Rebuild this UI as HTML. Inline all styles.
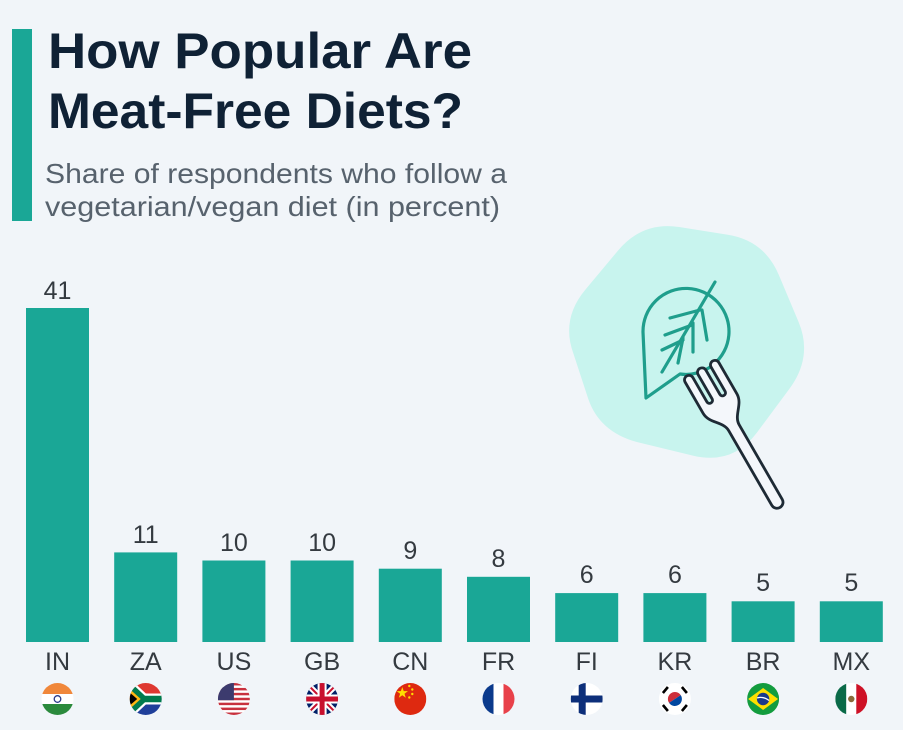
<!DOCTYPE html>
<html>
<head>
<meta charset="utf-8">
<style>
html,body{margin:0;padding:0;background:#f1f5f9;}
svg{display:block;}
text{font-family:"Liberation Sans",sans-serif;}
</style>
</head>
<body>
<svg width="903" height="730" viewBox="0 0 903 730" xmlns="http://www.w3.org/2000/svg">
<defs>
<clipPath id="fc"><circle cx="0" cy="0" r="16"/></clipPath>
</defs>
<rect width="903" height="730" fill="#f1f5f9"/>
<rect x="12" y="29" width="20" height="192" fill="#1aa796"/>
<text x="48" y="68" font-weight="bold" font-size="50" fill="#0f2135" textLength="424" lengthAdjust="spacingAndGlyphs">How Popular Are</text>
<text x="48" y="128" font-weight="bold" font-size="50" fill="#0f2135" textLength="415" lengthAdjust="spacingAndGlyphs">Meat-Free Diets?</text>
<text x="45" y="183" font-size="28" fill="#57626d" textLength="462" lengthAdjust="spacingAndGlyphs">Share of respondents who follow a</text>
<text x="45" y="216" font-size="28" fill="#57626d" textLength="455" lengthAdjust="spacingAndGlyphs">vegetarian/vegan diet (in percent)</text>

<!-- icon -->
<path fill="#c8f4ee" d="M679.1,227.0 L727.8,234.7 Q764.4,240.4 779.0,275.4 L798.6,322.0 Q813.2,357 789.0,389.4 L756.8,432.7 Q732.6,465.1 692.9,455.6 L639.9,442.8 Q600.1,433.3 588.3,399.0 L573.3,353.2 Q560.9,318.9 585.4,289.6 L618.0,250.6 Q642.5,221.3 679.1,227.0 Z"/>
<g fill="none" stroke="#1f9e8c" stroke-width="3.2" stroke-linecap="round" stroke-linejoin="round">
<path d="M646,398 L643,332 A43,43 0 1 1 680,374 Z"/>
<path d="M715,282 L662,372"/>
<path d="M700,310 L670,318 M692,325 L665,335 M683,340 L662,350"/>
<path d="M702,310 L707,340 M693,323 L693,352 M683,338 L678,363"/>
</g>
<path transform="translate(778,504) rotate(-30)" fill="#f4f7fb" stroke="#1e2a35" stroke-width="2.8" stroke-linejoin="round"
d="M -6,-2 L -6,-88 C -6,-99 -19.5,-104 -19.5,-116 L -19.5,-152 A 4.5,4.5 0 0 1 -10.5,-152 L -10.5,-124 A 3,3 0 0 0 -4.5,-124 L -4.5,-152 A 4.5,4.5 0 0 1 4.5,-152 L 4.5,-124 A 3,3 0 0 0 10.5,-124 L 10.5,-152 A 4.5,4.5 0 0 1 19.5,-152 L 19.5,-116 C 19.5,-104 6,-99 6,-88 L 6,-2 A 6,6 0 0 1 -6,-2 Z"/>

<!-- bars -->
<g fill="#1aa796">
<rect x="26" y="308" width="63" height="334"/>
<rect x="114.2" y="552.4" width="63" height="89.6"/>
<rect x="202.4" y="560.5" width="63" height="81.5"/>
<rect x="290.6" y="560.5" width="63" height="81.5"/>
<rect x="378.8" y="568.7" width="63" height="73.3"/>
<rect x="467" y="576.8" width="63" height="65.2"/>
<rect x="555.2" y="593.1" width="63" height="48.9"/>
<rect x="643.4" y="593.1" width="63" height="48.9"/>
<rect x="731.6" y="601.3" width="63" height="40.7"/>
<rect x="819.8" y="601.3" width="63" height="40.7"/>
</g>
<g font-size="25" fill="#343a40" text-anchor="middle">
<text x="57.5" y="299">41</text>
<text x="145.7" y="543">11</text>
<text x="233.9" y="551">10</text>
<text x="322.1" y="551">10</text>
<text x="410.3" y="559">9</text>
<text x="498.5" y="567">8</text>
<text x="586.7" y="583">6</text>
<text x="674.9" y="583">6</text>
<text x="763.1" y="591">5</text>
<text x="851.3" y="591">5</text>
</g>
<g font-size="25" fill="#343a40" text-anchor="middle">
<text x="57.5" y="670">IN</text>
<text x="145.7" y="670">ZA</text>
<text x="233.9" y="670">US</text>
<text x="322.1" y="670">GB</text>
<text x="410.3" y="670">CN</text>
<text x="498.5" y="670">FR</text>
<text x="586.7" y="670">FI</text>
<text x="674.9" y="670">KR</text>
<text x="763.1" y="670">BR</text>
<text x="851.3" y="670">MX</text>
</g>

<!-- flags -->
<g transform="translate(57.5,699)"><g clip-path="url(#fc)">
<rect x="-16" y="-16" width="32" height="11" fill="#f0873a"/>
<rect x="-16" y="-5" width="32" height="10" fill="#ffffff"/>
<rect x="-16" y="5" width="32" height="11" fill="#2b8a3d"/>
<circle r="3.3" fill="none" stroke="#2a3a8a" stroke-width="1.3"/>
</g></g>

<g transform="translate(145.7,699)"><g clip-path="url(#fc)">
<rect x="-16" y="-16" width="32" height="16" fill="#de3831"/>
<rect x="-16" y="0" width="32" height="16" fill="#1f3f9a"/>
<path d="M-18,-15 L-2,0 L18,0 M-18,15 L-2,0" stroke="#fff" stroke-width="11" fill="none"/>
<path d="M-18,-15 L-2,0 L18,0 M-18,15 L-2,0" stroke="#007a4d" stroke-width="6.5" fill="none"/>
<polygon points="-16,-10 -5,0 -16,10" fill="#ffb612"/>
<polygon points="-16,-6.5 -8.5,0 -16,6.5" fill="#000"/>
</g></g>

<g transform="translate(233.9,699)"><g clip-path="url(#fc)">
<rect x="-16" y="-16" width="32" height="32" fill="#fff"/>
<g fill="#c8313e">
<rect x="-16" y="-16" width="32" height="2.46"/>
<rect x="-16" y="-11.08" width="32" height="2.46"/>
<rect x="-16" y="-6.16" width="32" height="2.46"/>
<rect x="-16" y="-1.24" width="32" height="2.46"/>
<rect x="-16" y="3.68" width="32" height="2.46"/>
<rect x="-16" y="8.6" width="32" height="2.46"/>
<rect x="-16" y="13.52" width="32" height="2.48"/>
</g>
<rect x="-16" y="-16" width="16" height="17.2" fill="#3c3b6e"/>
</g></g>

<g transform="translate(322.1,699)"><g clip-path="url(#fc)">
<rect x="-16" y="-16" width="32" height="32" fill="#012169"/>
<path d="M-16,-16 L16,16 M16,-16 L-16,16" stroke="#fff" stroke-width="6"/>
<path d="M-16,-16 L16,16 M16,-16 L-16,16" stroke="#c8102e" stroke-width="2"/>
<path d="M0,-16 L0,16 M-16,0 L16,0" stroke="#fff" stroke-width="9"/>
<path d="M0,-16 L0,16 M-16,0 L16,0" stroke="#c8102e" stroke-width="5"/>
</g></g>

<g transform="translate(410.3,699)"><g clip-path="url(#fc)">
<rect x="-16" y="-16" width="32" height="32" fill="#de2910"/>
<polygon points="-8,-12 -6.6,-7.9 -2.3,-7.9 -5.8,-5.3 -4.5,-1.2 -8,-3.7 -11.5,-1.2 -10.2,-5.3 -13.7,-7.9 -9.4,-7.9" fill="#ffde00"/>
<circle cx="-1" cy="-13" r="1.2" fill="#ffde00"/>
<circle cx="2" cy="-9.5" r="1.2" fill="#ffde00"/>
<circle cx="2" cy="-5" r="1.2" fill="#ffde00"/>
<circle cx="-1" cy="-1.5" r="1.2" fill="#ffde00"/>
</g></g>

<g transform="translate(498.5,699)"><g clip-path="url(#fc)">
<rect x="-16" y="-16" width="11" height="32" fill="#0b3a8c"/>
<rect x="-5" y="-16" width="10" height="32" fill="#fff"/>
<rect x="5" y="-16" width="11" height="32" fill="#e8414a"/>
</g></g>

<g transform="translate(586.7,699)"><g clip-path="url(#fc)">
<rect x="-16" y="-16" width="32" height="32" fill="#fff"/>
<rect x="-8" y="-16" width="7" height="32" fill="#0d2f7a"/>
<rect x="-16" y="-3.5" width="32" height="7" fill="#0d2f7a"/>
</g></g>

<g transform="translate(674.9,699)"><g clip-path="url(#fc)">
<rect x="-16" y="-16" width="32" height="32" fill="#fff"/>
<g transform="rotate(-34)">
<path d="M-7,0 A7,7 0 0 1 7,0 Z" fill="#cd2e3a"/>
<path d="M-7,0 A7,7 0 0 0 7,0 Z" fill="#0047a0"/>
</g>
<g stroke="#000" stroke-width="2.6">
<path d="M-12,-6 L-7,-12"/>
<path d="M12,-6 L7,-12"/>
<path d="M-12,6 L-7,12"/>
<path d="M12,6 L7,12"/>
</g>
</g></g>

<g transform="translate(763.1,699)"><g clip-path="url(#fc)">
<rect x="-16" y="-16" width="32" height="32" fill="#139c3e"/>
<polygon points="-15,0 0,-11 15,0 0,11" fill="#fedf00"/>
<circle r="6.2" fill="#1a3a8a"/>
<path d="M-6,-1 Q0,-3 6,1.5" stroke="#fff" stroke-width="1.3" fill="none"/>
</g></g>

<g transform="translate(851.3,699)"><g clip-path="url(#fc)">
<rect x="-16" y="-16" width="11" height="32" fill="#0a6a48"/>
<rect x="-5" y="-16" width="10" height="32" fill="#fff"/>
<rect x="5" y="-16" width="11" height="32" fill="#ce1126"/>
<circle r="3.2" fill="#8a6a3a"/>
</g></g>
</svg>
</body>
</html>
